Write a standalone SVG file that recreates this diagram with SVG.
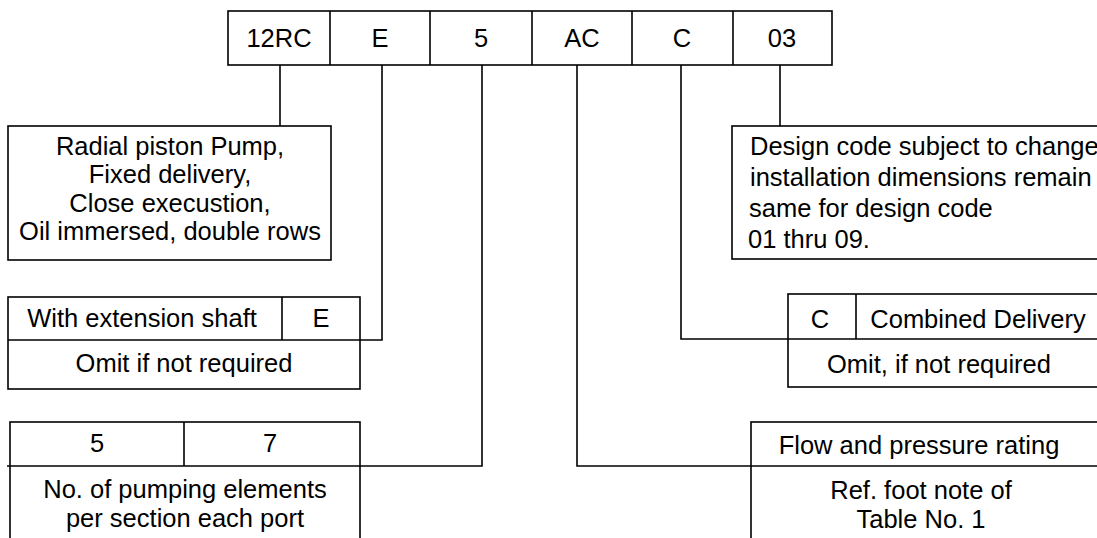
<svg xmlns="http://www.w3.org/2000/svg" width="1097" height="538" viewBox="0 0 1097 538">
<style>
.b{fill:#fff;stroke:#000;stroke-width:1.6}
.l{fill:none;stroke:#000;stroke-width:1.6}
text{font-family:"Liberation Sans",Arial,sans-serif;font-size:25.5px;fill:#000}
.c{text-anchor:middle}
</style>
<rect width="1097" height="538" fill="#fff"/>
<g id="code">
<rect class="b" x="228" y="11" width="604" height="54"/>
<path class="l" d="M330,11V65M430,11V65M532,11V65M632,11V65M733,11V65"/>
<text class="c" x="279" y="47">12RC</text>
<text class="c" x="380" y="47">E</text>
<text class="c" x="481" y="47">5</text>
<text class="c" x="582" y="47">AC</text>
<text class="c" x="682" y="47">C</text>
<text class="c" x="782" y="47">03</text>
</g>
<g id="connectors">
<path class="l" d="M280,65V126"/>
<path class="l" d="M382,65V340H360"/>
<path class="l" d="M482,65V466H360"/>
<path class="l" d="M577,65V466H751"/>
<path class="l" d="M681,65V339H788"/>
<path class="l" d="M780,65V126"/>
</g>
<g id="pump">
<rect class="b" x="8" y="126" width="323" height="134"/>
<text class="c" x="170" y="155">Radial piston Pump,</text>
<text class="c" x="170" y="183">Fixed delivery,</text>
<text class="c" x="170" y="212">Close execustion,</text>
<text class="c" x="170" y="240">Oil immersed, double rows</text>
</g>
<g id="shaft">
<rect class="b" x="8" y="297" width="352" height="92"/>
<path class="l" d="M8,340H360M282,297V340"/>
<text class="c" x="142" y="327">With extension shaft</text>
<text class="c" x="321" y="327">E</text>
<text class="c" x="184" y="372">Omit if not required</text>
</g>
<g id="elements">
<rect class="b" x="10" y="422" width="350" height="130"/>
<path class="l" d="M7,466H360M184,422V466"/>
<text class="c" x="97" y="452">5</text>
<text class="c" x="270" y="452">7</text>
<text class="c" x="185" y="498">No. of pumping elements</text>
<text class="c" x="185" y="527">per section each port</text>
</g>
<g id="design">
<rect class="b" x="732" y="126" width="390" height="133"/>
<text x="750" y="155">Design code subject to change</text>
<text x="750" y="186">installation dimensions remain</text>
<text x="749" y="217">same for design code</text>
<text x="748" y="248">01 thru 09.</text>
</g>
<g id="combined">
<rect class="b" x="788" y="294" width="330" height="93"/>
<path class="l" d="M788,339H1118M856,294V339"/>
<text class="c" x="820" y="328">C</text>
<text class="c" x="978" y="328">Combined Delivery</text>
<text class="c" x="939" y="373">Omit, if not required</text>
</g>
<g id="flow">
<rect class="b" x="751" y="422" width="370" height="130"/>
<path class="l" d="M751,466H1121"/>
<text class="c" x="919" y="454">Flow and pressure rating</text>
<text class="c" x="921" y="499">Ref. foot note of</text>
<text class="c" x="921" y="528">Table No. 1</text>
</g>
</svg>
